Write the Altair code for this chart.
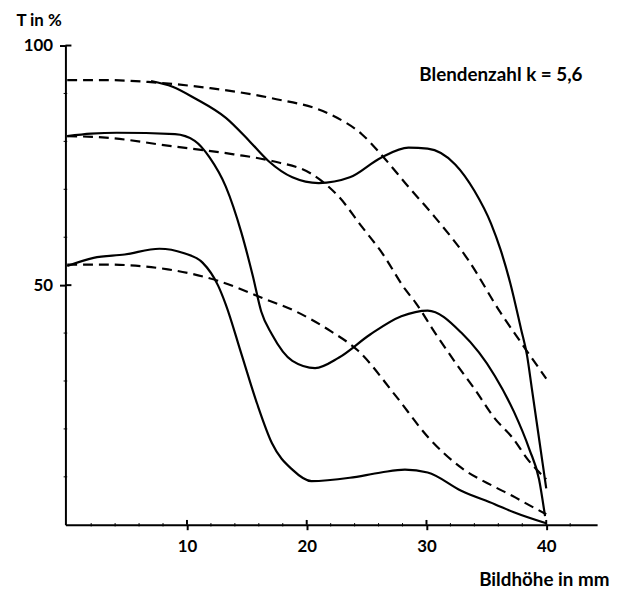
import altair as alt
import pandas as pd

# ---- data ----
top_meas_x = [7.0, 8.8, 10.65, 13.25, 15.2, 16.8, 18.8, 21.0, 23.6, 26.2, 28.5, 30.1, 32.4, 34.0, 35.4, 36.2, 37.0, 37.9, 38.4, 38.8, 39.4, 40.0]
top_meas_y = [92.6, 91.4, 89.0, 84.9, 80.1, 75.9, 72.5, 71.3, 72.5, 76.6, 78.7, 78.5, 75.2, 69.7, 62.8, 57.3, 50.4, 40.8, 35.3, 28.4, 18.0, 7.6]

top_theo_x = [0, 3.0, 6.75, 11.95, 17.1, 22.0, 24.6, 26.2, 28.5, 30.7, 33.5, 36.2, 37.9, 40.0]
top_theo_y = [92.8, 92.8, 92.4, 91.1, 89.0, 85.6, 81.5, 77.3, 70.5, 64.2, 55.2, 44.2, 38.0, 30.5]

mid_meas_x = [0, 2.0, 4.15, 9.0, 10.65, 11.9, 13.25, 14.55, 15.5, 16.2, 17.1, 18.8, 20.7, 22.7, 25.3, 27.9, 30.1, 32.9, 35.7, 37.3, 38.6, 39.4, 39.9]
mid_meas_y = [81.1, 81.6, 81.8, 81.5, 80.1, 76.6, 70.5, 60.9, 51.9, 44.5, 39.7, 34.2, 32.7, 34.9, 39.7, 43.5, 44.7, 40.1, 31.1, 23.6, 15.7, 9.5, 1.8]

mid_theo_x = [0, 3.2, 8.7, 13.9, 17.1, 20.4, 22.7, 24.6, 26.3, 28.2, 29.1, 30.7, 32.6, 34.0, 35.7, 37.2, 38.5, 40.0]
mid_theo_y = [81.1, 80.8, 79.0, 77.3, 75.9, 73.2, 68.4, 62.2, 56.7, 49.2, 46.3, 40.1, 33.2, 28.4, 22.2, 18.1, 13.5, 9.5]

low_meas_x = [0, 2.2, 4.8, 7.7, 9.7, 11.3, 12.6, 13.25, 14.55, 15.85, 17.1, 18.8, 20.4, 23.6, 26.2, 28.2, 30.1, 32.9, 35.7, 37.3, 40.0]
low_meas_y = [54.0, 55.7, 56.4, 57.6, 56.7, 54.7, 49.9, 45.9, 35.6, 25.3, 17.0, 11.5, 9.1, 9.8, 10.9, 11.5, 10.9, 7.1, 4.3, 2.6, 0.3]

low_theo_x = [0, 3.2, 8.4, 12.6, 16.5, 19.1, 22.0, 24.3, 27.4, 30.2, 32.9, 35.7, 37.2, 38.5, 40.0]
low_theo_y = [54.3, 54.3, 53.3, 50.9, 47.1, 44.5, 40.4, 36.3, 27.0, 18.1, 11.9, 7.9, 6.0, 4.2, 2.2]

x_major = [10, 20, 30, 40]
x_minor = [2, 4, 6, 8, 12, 14, 16, 18, 22, 24, 26, 28, 32, 34, 36, 38, 42]
y_major = [50, 100]
y_minor = [10, 20, 30, 40, 60, 70, 80, 90]

annotation = "Blendenzahl k = 5,6"
ann_x = [29.4]
ann_y = [92.6]

X_MIN, X_MAX = -0.15, 44.25


def series(name, xs, ys):
    return pd.DataFrame({"curve": name, "x": xs, "y": ys, "order": range(len(xs))})


solid = pd.concat([
    series("top", top_meas_x, top_meas_y),
    series("mid", mid_meas_x, mid_meas_y),
    series("low", low_meas_x, low_meas_y),
])
dashed = pd.concat([
    series("top", top_theo_x, top_theo_y),
    series("mid", mid_theo_x, mid_theo_y),
    series("low", low_theo_x, low_theo_y),
])

xscale = alt.Scale(domain=[X_MIN, X_MAX], nice=False, zero=False)
yscale = alt.Scale(domain=[0, 100], nice=False)

FONT = "Lato"

x_axis = alt.Axis(
    values=x_major, ticks=True, tickSize=5, tickWidth=2, tickColor="black", grid=False,
    domainColor="black", domainWidth=2,
    labelFont=FONT, labelFontSize=17, labelFontWeight="bold", labelColor="black", labelPadding=9,
    title="Bildhöhe in mm", titleFont=FONT, titleFontSize=19, titleFontWeight="bold",
    titleColor="black", titleAlign="right", titleAnchor="end", titleBaseline="alphabetic",
    titleX=549, titleY=61,
)
y_axis = alt.Axis(
    values=y_major, ticks=True, tickSize=6, tickWidth=2, tickColor="black", grid=False,
    domainColor="black", domainWidth=2,
    labelFont=FONT, labelFontSize=17, labelFontWeight="bold", labelColor="black", labelPadding=7,
    title="T in %", titleFont=FONT, titleFontSize=17, titleFontWeight="bold", titleColor="black",
    titleAngle=0, titleAlign="left", titleBaseline="alphabetic", titleX=-50, titleY=-20,
)

base_x = alt.X("x:Q", scale=xscale, axis=x_axis)
base_y = alt.Y("y:Q", scale=yscale, axis=y_axis)

solid_layer = alt.Chart(solid).mark_line(
    color="black", strokeWidth=2.2, interpolate="monotone"
).encode(x=base_x, y=base_y, detail="curve:N", order="order:Q")

dashed_layer = alt.Chart(dashed).mark_line(
    color="black", strokeWidth=2.2, strokeDash=[10, 6], interpolate="monotone"
).encode(x="x:Q", y="y:Q", detail="curve:N", order="order:Q")

# inner halves of the crossing ticks, and the tiny minor ticks
xt_major = alt.Chart(pd.DataFrame({"x": x_major, "y": [0.0] * 4, "y2": [1.0] * 4})).mark_rule(
    color="black", strokeWidth=2
).encode(x="x:Q", y="y:Q", y2="y2:Q")
xt_minor = alt.Chart(pd.DataFrame({"x": x_minor, "y": [-0.35] * len(x_minor), "y2": [0.35] * len(x_minor)})).mark_rule(
    color="black", strokeWidth=1
).encode(x="x:Q", y="y:Q", y2="y2:Q")
yt_major = alt.Chart(pd.DataFrame({"y": y_major, "x": [X_MIN] * 2, "x2": [X_MIN + 0.5] * 2})).mark_rule(
    color="black", strokeWidth=2
).encode(x="x:Q", x2="x2:Q", y="y:Q")
yt_minor = alt.Chart(pd.DataFrame({"y": y_minor, "x": [X_MIN - 0.15] * len(y_minor), "x2": [X_MIN + 0.15] * len(y_minor)})).mark_rule(
    color="black", strokeWidth=1
).encode(x="x:Q", x2="x2:Q", y="y:Q")

text_layer = alt.Chart(pd.DataFrame({"x": ann_x, "y": ann_y, "t": [annotation]})).mark_text(
    align="left", baseline="alphabetic", font=FONT, fontSize=19, fontWeight="bold", color="black"
).encode(x="x:Q", y="y:Q", text="t:N")

chart = alt.layer(
    solid_layer, dashed_layer, xt_major, xt_minor, yt_major, yt_minor, text_layer
).properties(
    width=537, height=484,
    autosize=alt.AutoSizeParams(type="none"),
    padding={"left": 58, "top": 35, "right": 12, "bottom": 64},
    background="white",
).configure_view(stroke=None)

chart.save("out.html", embed_options={"renderer": "svg", "actions": False})
